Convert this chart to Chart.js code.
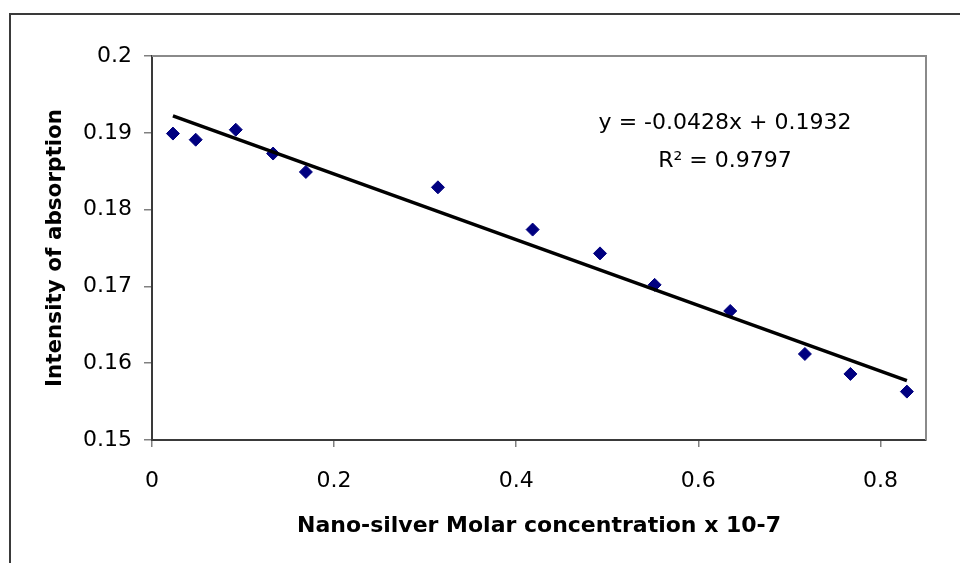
<!DOCTYPE html>
<html lang="en">
<head>
    <meta charset="UTF-8">
    <title>Intensity of absorption vs nano-silver concentration</title>
    <style>
        html, body { margin: 0; padding: 0; background: #fff; overflow: hidden; }
        #frame {
            position: absolute; left: 9px; top: 13px; width: 1000px; height: 700px;
            border-left: 2px solid #3a3a3a; border-top: 2px solid #3a3a3a;
        }
        #myChart { position: absolute; left: 0; top: 0; }
    </style>
</head>
<body>
    <div id="frame"></div>
    <canvas id="myChart" width="960" height="563"></canvas>

    <script src="https://cdn.jsdelivr.net/npm/chart.js@4/dist/chart.umd.min.js"></script>
    <script>
    // measured points (x = concentration, y = absorption)
    var concentration = [0.023, 0.048, 0.092, 0.133, 0.169, 0.314, 0.418, 0.492, 0.552, 0.635, 0.717, 0.767, 0.829];
    var absorption    = [0.1899, 0.1891, 0.1904, 0.1873, 0.1849, 0.1829, 0.1774, 0.1743, 0.1702, 0.1668, 0.1612, 0.1586, 0.1563];

    // trendline as printed on the chart
    var trendSlope = -0.0428;
    var trendIntercept = 0.1932;
    var trendLabels = ['y = -0.0428x + 0.1932', 'R\u00B2 = 0.9797'];

    var xTicks = [0, 0.2, 0.4, 0.6, 0.8];
    var yTicks = [0.15, 0.16, 0.17, 0.18, 0.19, 0.2];
    var xTitle = 'Nano-silver Molar concentration x 10-7';
    var yTitle = 'Intensity of absorption';

    var FONT = "'DejaVu Sans', 'Liberation Sans', Arial, sans-serif";

    var points = concentration.map(function(x, i){
        return { x: x, y: absorption[i] };
    });
    var xLo = Math.min.apply(null, concentration);
    var xHi = Math.max.apply(null, concentration);
    var trend = [xLo, xHi].map(function(x){
        return { x: x, y: trendSlope * x + trendIntercept };
    });

    // gray top/right edges of the plot area + trend equation text
    var plotDecor = {
        id: 'plotDecor',
        beforeDatasetsDraw: function(chart){
            var a = chart.chartArea, ctx = chart.ctx;
            ctx.save();
            ctx.strokeStyle = '#8a8a8a';
            ctx.lineWidth = 2;
            ctx.beginPath();
            ctx.moveTo(a.left, a.top);
            ctx.lineTo(a.right, a.top);
            ctx.lineTo(a.right, a.bottom);
            ctx.stroke();
            ctx.restore();
        },
        afterDraw: function(chart){
            var ctx = chart.ctx;
            ctx.save();
            ctx.fillStyle = '#000';
            ctx.font = '22px ' + FONT;
            ctx.textAlign = 'center';
            ctx.textBaseline = 'alphabetic';
            ctx.fillText(trendLabels[0], 725, 129);
            ctx.fillText(trendLabels[1], 725, 167);
            ctx.restore();
        }
    };

    new Chart(document.getElementById('myChart').getContext('2d'), {
        type: 'scatter',
        data: {
            datasets: [{
                type: 'line',
                data: trend,
                borderColor: '#000',
                borderWidth: 3.5,
                pointRadius: 0,
                fill: false,
                order: 0
            }, {
                data: points,
                pointStyle: 'rectRot',
                pointRadius: 6.5,
                backgroundColor: '#000080',
                borderColor: '#000080',
                borderWidth: 1,
                order: 1
            }]
        },
        options: {
            responsive: false,
            animation: false,
            devicePixelRatio: 1,
            layout: { padding: { left: 0, top: 56, right: 34, bottom: 0 } },
            plugins: {
                legend: { display: false },
                tooltip: { enabled: false }
            },
            scales: {
                x: {
                    type: 'linear',
                    min: 0,
                    max: 0.85,
                    afterBuildTicks: function(s){ s.ticks = xTicks.map(function(v){ return { value: v }; }); },
                    afterFit: function(s){ s.height = 123; },
                    grid: { drawOnChartArea: false, drawTicks: true, tickLength: 7, color: '#808080', lineWidth: 1.5 },
                    border: { color: '#3a3a3a', width: 2 },
                    ticks: {
                        padding: 21,
                        color: '#000',
                        font: { family: FONT, size: 22 },
                        callback: function(v){ return String(v); }
                    },
                    title: {
                        display: true,
                        text: xTitle,
                        color: '#000',
                        font: { family: FONT, size: 22, weight: 'bold' },
                        padding: { top: 0, bottom: 24 }
                    }
                },
                y: {
                    type: 'linear',
                    min: 0.15,
                    max: 0.2,
                    afterBuildTicks: function(s){ s.ticks = yTicks.map(function(v){ return { value: v }; }); },
                    afterFit: function(s){ s.width = 152; },
                    grid: { drawOnChartArea: false, drawTicks: true, tickLength: 8, color: '#808080', lineWidth: 1.5 },
                    border: { color: '#3a3a3a', width: 2 },
                    ticks: {
                        padding: 12,
                        color: '#000',
                        font: { family: FONT, size: 22 },
                        callback: function(v){ return String(v); }
                    },
                    title: {
                        display: true,
                        text: yTitle,
                        color: '#000',
                        font: { family: FONT, size: 21.5, weight: 'bold' },
                        padding: { top: 43, bottom: 0 }
                    }
                }
            }
        },
        plugins: [plotDecor]
    });
    </script>
</body>
</html>
